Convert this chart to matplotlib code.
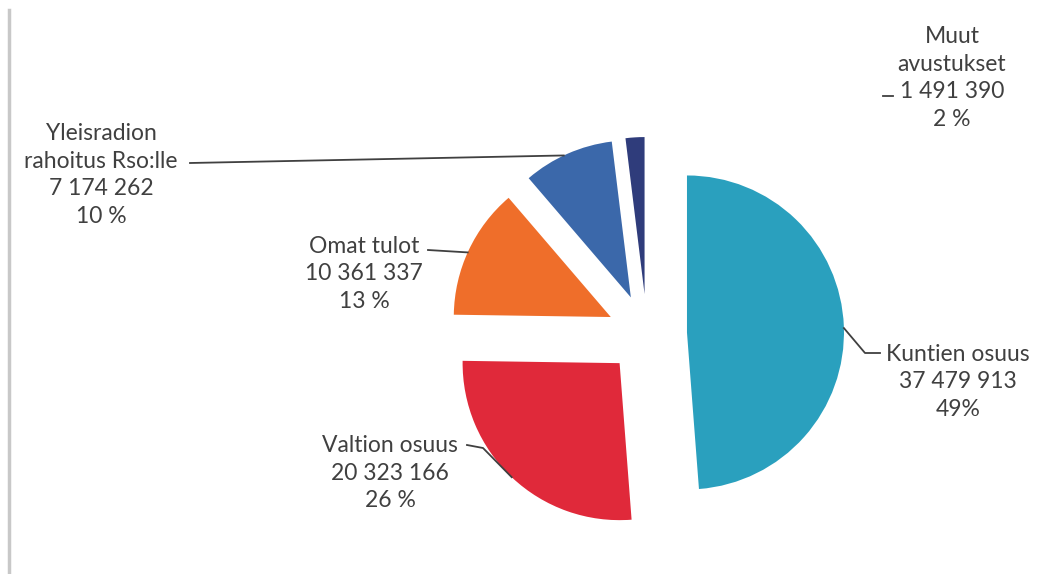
import math
import matplotlib.pyplot as plt

# data
names = ['Kuntien osuus', 'Valtion osuus', 'Omat tulot',
         'Yleisradion\nrahoitus Rso:lle', 'Muut\navustukset']
values = [37479913, 20323166, 10361337, 7174262, 1491390]
amounts = ['37 479 913', '20 323 166', '10 361 337', '7 174 262', '1 491 390']
percents = ['49%', '26 %', '13 %', '10 %', '2 %']
colors = ['#2AA0BE', '#E0293A', '#EF6E2A', '#3B68AA', '#2F3C7B']

W, H = 1039, 574

fig = plt.figure(figsize=(W / 100, H / 100), dpi=100)
ax = fig.add_axes([0, 0, 1, 1])

wedges, _ = ax.pie(values, colors=colors, startangle=90, counterclock=False,
                   center=(647, 240), radius=157, explode=[40] * len(values),
                   wedgeprops=dict(linewidth=0))
ax.set_xlim(0, W)
ax.set_ylim(0, H)
ax.set_aspect('equal')
ax.axis('off')

# label placement (pixel layout)
label_pos = [(958, 192), (390, 101), (364, 300), (101, 399), (952, 496)]
for name, amt, pct, (tx, ty) in zip(names, amounts, percents, label_pos):
    ax.text(tx, ty, name + '\n' + amt + '\n' + pct, ha='center', va='center',
            fontsize=16.5, family='Lato', color='#404040', linespacing=1.38)

# leader lines: angle on the wedge arc, then elbow points toward the text
leaders = [
    (0, 1.6, [(865, 221), (880, 221)]),
    (1, -133.4, [(483, 126), (467, 129)]),
    (2, 155.7, [(428, 324)]),
    (3, 115.3, [(190, 411)]),
]
for i, ang, pts in leaders:
    w = wedges[i]
    cx, cy = w.center
    sx = cx + w.r * math.cos(math.radians(ang))
    sy = cy + w.r * math.sin(math.radians(ang))
    xs = [sx] + [p[0] for p in pts]
    ys = [sy] + [p[1] for p in pts]
    ax.plot(xs, ys, color='#404040', lw=1.3)
# short stub in front of the "Muut avustukset" amount
ax.plot([883, 893], [478, 478], color='#404040', lw=1.3)

# grey frame line on the left
ax.plot([9, 9], [0, 564], color='#c8c8c8', lw=2.5)

fig.savefig('out.png', dpi=100, facecolor='white')
